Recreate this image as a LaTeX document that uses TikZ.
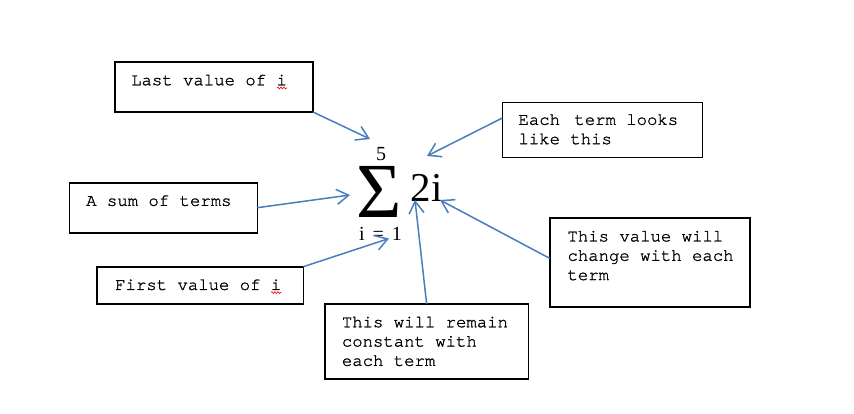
\documentclass[tikz,border=0pt]{standalone}
\usepackage{fontspec}
\newfontfamily\boxfont[RawFeature={embolden=1.2}]{TeX Gyre Cursor}
\newfontfamily\eqfont{Liberation Serif}
\usepackage{tikz}
\usetikzlibrary{arrows.meta,positioning,decorations.pathmorphing}
\definecolor{arrowblue}{RGB}{74,126,187}
\tikzstyle{line} = [draw=arrowblue, line width=1.5pt, -{Straight Barb[length=12pt,width=15pt]}]

\begin{document}
\begin{tikzpicture}[x=1pt,y=-1pt]
\tikzstyle{box} = [draw, line width=1.6pt, inner sep=0pt, outer sep=0pt, anchor=north west]
\tikzstyle{ann} = [inner sep=0pt, align=left, font=\boxfont\fontsize{17.3}{19.3}\selectfont]
\tikzstyle{eq} = [inner sep=0pt, font=\eqfont]
\tikzstyle{squiggle} = [draw=red, line width=0.6pt, decorate, decoration={snake, segment length=3pt, amplitude=1pt}]
\useasboundingbox (0,0) rectangle (854,413);
% the boxes
\node[box, minimum width=198pt, minimum height=50pt] (last) at (115,62) {};
\node[box, minimum width=188pt, minimum height=50pt] (sum) at (69.3,182.7) {};
\node[box, minimum width=206.6pt, minimum height=37.3pt] (first) at (96.7,266.7) {};
\node[box, line width=0.8pt, minimum width=200pt, minimum height=54.6pt] (each) at (502.3,102.7) {};
\node[box, minimum width=200.3pt, minimum height=89.3pt] (value) at (549.7,217.7) {};
\node[box, minimum width=203.3pt, minimum height=74.7pt] (constant) at (325,304) {};
% their texts
\node[ann, below right=12.5pt and 16pt of last.north west] (lasttext) {Last value of i};
\node[ann, below right=12.5pt and 16.7pt of sum.north west] (sumtext) {A sum of terms};
\node[ann, below right=12.5pt and 18.3pt of first.north west] (firsttext) {First value of i};
\node[ann, below right=11.5pt and 16pt of each.north west] (eachtext) {Each\hspace{4pt} term looks\\like this};
\node[ann, below right=13pt and 17.6pt of value.north west] (valuetext) {This value will\\change with each\\term};
\node[ann, below right=12.5pt and 16.7pt of constant.north west] (constanttext) {This will remain\\constant with\\each term};
\draw[squiggle] (277,88) -- (287,88);
\draw[squiggle] (271,292.5) -- (281,292.5);
% the formula
\node[eq, font=\eqfont\fontsize{78}{78}\selectfont, text height=51pt, text depth=0pt, anchor=base] (sigma) at (379,217.7) {Σ};
\node[eq, font=\eqfont\fontsize{20}{20}\selectfont, text height=13pt, text depth=0pt, anchor=base] (upper) at (381,160) {5};
\node[eq, font=\eqfont\fontsize{20}{20}\selectfont, text height=13pt, text depth=0pt, anchor=base] (lower) at (380.5,240) {i\hspace{8pt}=\hspace{8pt}1};
\node[eq, font=\eqfont\fontsize{41}{41}\selectfont, anchor=base west] (term) at (410.5,201.7) {2i};
% where the arrows point
\coordinate (tiplast) at (370,139);
\coordinate (tipsum) at (350,195);
\coordinate (tipfirst) at (389,238.5);
\coordinate (tipeach) at (427,156);
\coordinate (tipvalue) at (440,200);
\coordinate (tipconst) at (415,200);
\path [line] (last.south east) -- (tiplast);
\path [line] (sum.east) -- (tipsum);
\path [line] (first.north east) -- (tipfirst);
\path [line] ([yshift=12pt]each.west) -- (tipeach);
\path [line] ([yshift=4pt]value.west) -- (tipvalue);
\path [line] (constant.north) -- (tipconst);
\end{tikzpicture}
\end{document}
